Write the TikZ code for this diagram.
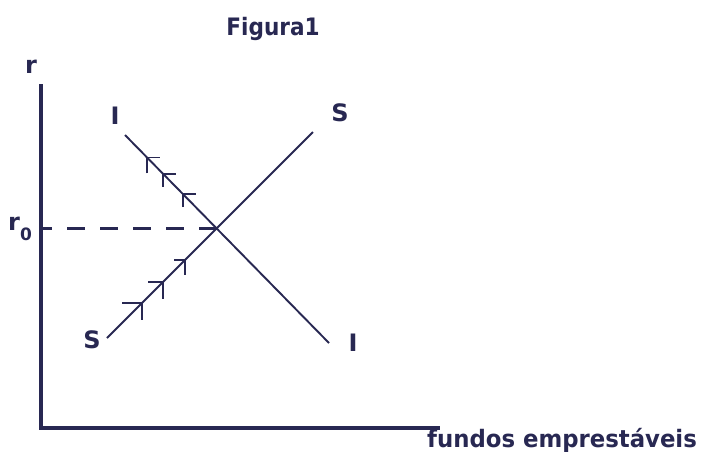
\documentclass[tikz,border=0pt]{standalone}
\usepackage{fontspec}
\setmainfont{DejaVu Sans}
\definecolor{ink}{RGB}{40,40,82}
\tikzset{
  axis/.style={draw=ink, line width=3.4pt},
  curve/.style={draw=ink, line width=1.9pt},
  tickmark/.style={draw=ink, line width=1.9pt},
  guide/.style={draw=ink, line width=2.8pt, dash pattern=on 18pt off 15pt},
  lbl/.style={text=ink, font=\fontsize{24}{28}\bfseries\selectfont, inner sep=0pt}
}
\begin{document}
\begin{tikzpicture}[x=1pt,y=-1pt]
\useasboundingbox (0,0) rectangle (702,456);
% axes
\coordinate (top) at (41,84);
\coordinate (O) at (41,428);
\coordinate (right) at (440,428);
\draw[axis] (top) -- (O) -- (right);
% curves
\coordinate (I1) at (125,135);
\coordinate (I2) at (329,343);
\coordinate (S1) at (107,338);
\coordinate (S2) at (313,132);
\draw[curve] (I1) -- (I2);
\draw[curve] (S1) -- (S2);
\coordinate (E) at (intersection of I1--I2 and S1--S2);
\coordinate (Ey) at (E -| O);
\draw[guide] (E) -- (Ey);
% arrow ticks on I
\path (I1) -- (I2) coordinate[pos=0.108] (ia) coordinate[pos=0.186] (ib) coordinate[pos=0.284] (ic);
\draw[tickmark] (ia) ++(0,16) -- (ia) -- ++(13,0);
\draw[tickmark] (ib) ++(0,13) -- (ib) -- ++(13,0);
\draw[tickmark] (ic) ++(0,13) -- (ic) -- ++(13,0);
% arrow ticks on S
\path (S1) -- (S2) coordinate[pos=0.17] (sa) coordinate[pos=0.272] (sb) coordinate[pos=0.379] (sc);
\draw[tickmark] (sa) ++(0,17) -- (sa) -- ++(-20,0);
\draw[tickmark] (sb) ++(0,17) -- (sb) -- ++(-15,0);
\draw[tickmark] (sc) ++(0,15) -- (sc) -- ++(-11,0);
% labels
\node[lbl, anchor=base] (title) at (273,35) {\scalebox{0.9}[1]{Figura1}};
\node[lbl] (r) at (31,67) {r};
\node[lbl, anchor=base west] (r0) at (8,230) {r\raisebox{-10pt}{\fontsize{17}{20}\selectfont 0}};
\node[lbl] (Itop) at (115,116) {I};
\node[lbl] (Stop) at (340,113) {S};
\node[lbl] (Sbot) at (92,340) {S};
\node[lbl] (Ibot) at (353,343) {I};
\node[lbl, anchor=base west] (xlab) at (427,447) {\scalebox{0.95}[1]{fundos emprestáveis}};
\end{tikzpicture}
\end{document}
